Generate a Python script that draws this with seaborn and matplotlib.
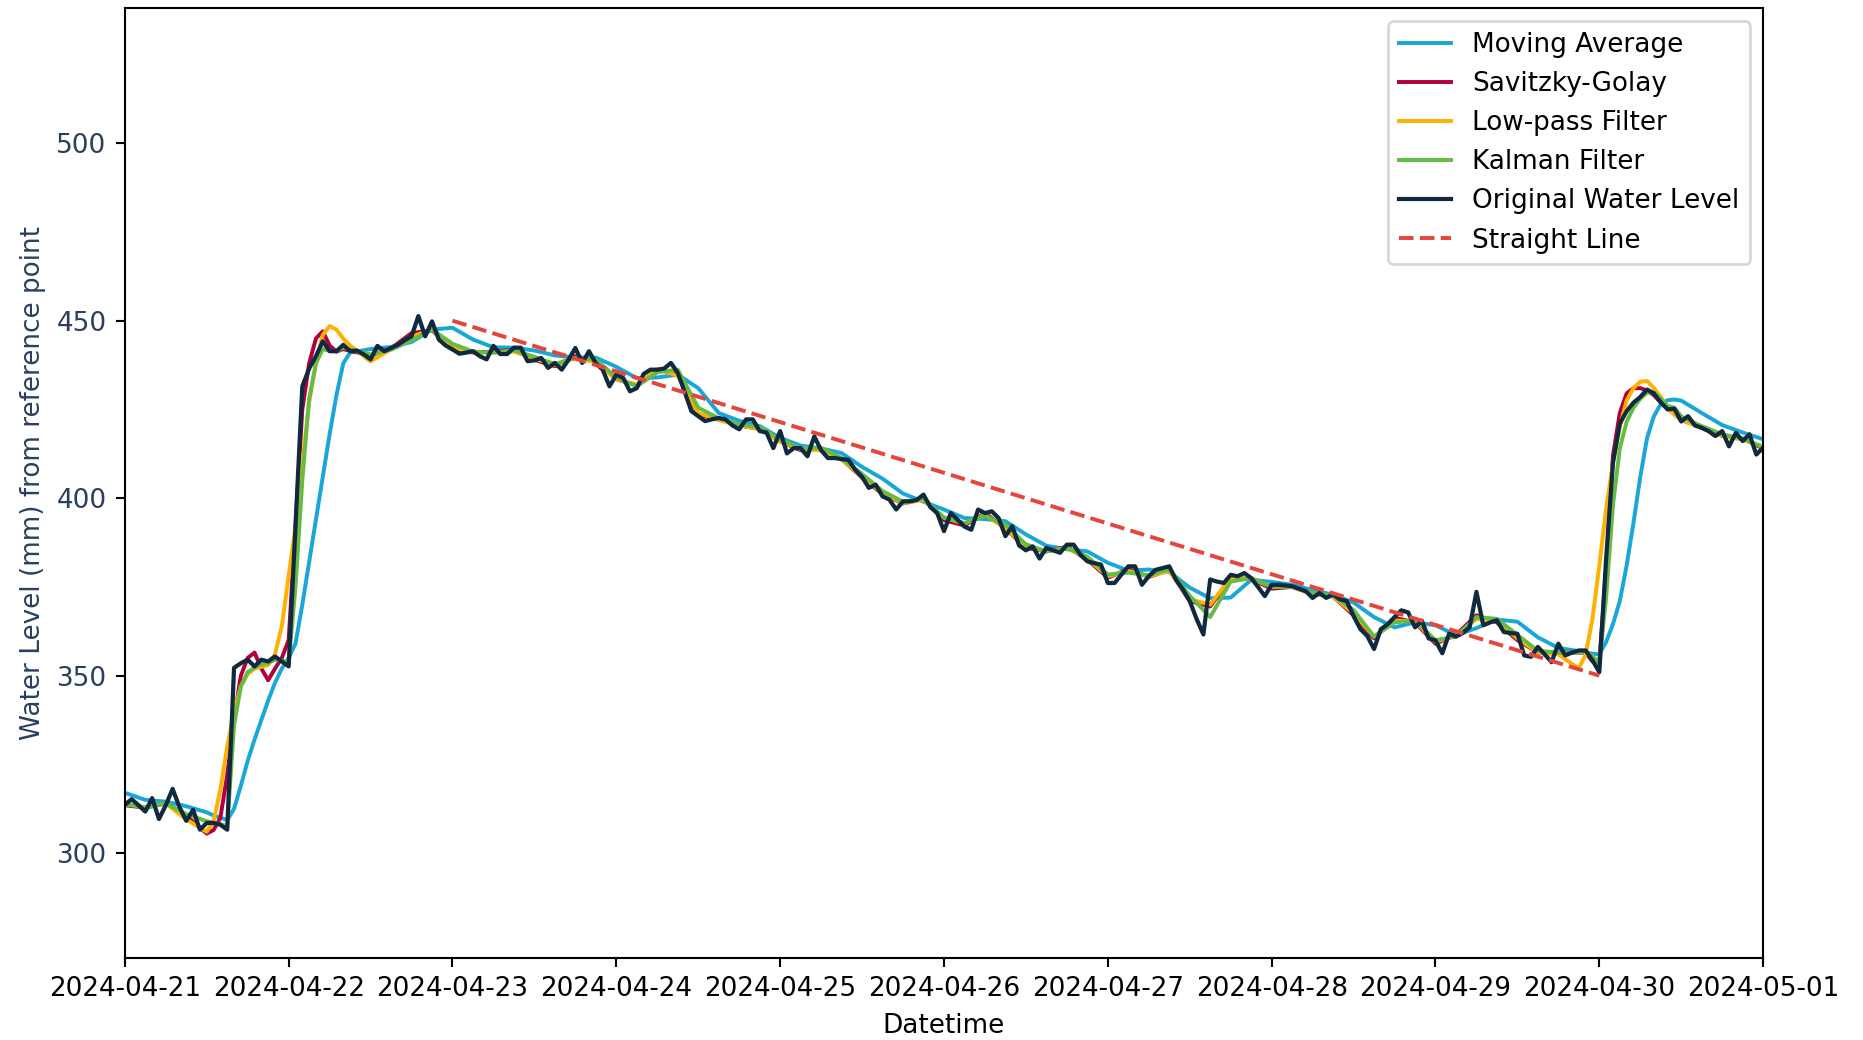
import numpy as np
import pandas as pd
import seaborn as sns
import matplotlib.pyplot as plt
import matplotlib.dates as mdates

# hourly water level readings, 2024-04-21 00:00 .. 2024-05-01 00:00
water_level = [
    313.6, 315.2, 313.5, 311.7, 315.5, 309.6, 313.5, 318.1, 313.0, 309.1, 312.2, 306.6,
    308.5, 308.5, 308.0, 306.6, 352.2, 353.5, 354.5, 352.6, 354.5, 354.0, 355.4, 354.0,
    352.6, 392.0, 431.5, 436.5, 440.0, 444.2, 441.4, 441.4, 443.2, 441.4, 441.6, 440.5,
    439.1, 442.9, 441.4, 442.3, 443.2, 444.5, 445.6, 451.3, 445.6, 449.8, 444.7, 443.0,
    441.9, 440.7, 441.0, 441.4, 440.0, 439.1, 442.9, 440.6, 440.6, 442.4, 442.4, 438.6,
    438.8, 439.5, 436.7, 438.1, 436.2, 439.0, 442.3, 438.1, 441.4, 438.0, 436.2, 431.5,
    434.8, 433.9, 430.1, 431.0, 435.0, 436.2, 436.2, 436.5, 438.1, 435.3, 430.0, 424.5,
    423.1, 421.7, 422.2, 422.6, 422.2, 420.5, 419.4, 422.2, 422.2, 418.9, 418.5, 414.1,
    418.9, 412.6, 414.1, 414.1, 411.8, 417.4, 413.5, 411.3, 411.3, 411.0, 410.8, 408.0,
    406.0, 402.9, 403.8, 400.5, 399.6, 396.8, 399.1, 399.1, 399.5, 401.0, 397.5, 395.8,
    390.7, 395.8, 393.9, 392.0, 391.1, 396.8, 395.8, 396.3, 394.4, 389.3, 392.1, 386.7,
    385.3, 386.4, 383.0, 386.0, 385.3, 384.6, 386.9, 386.9, 384.0, 382.2, 381.7, 381.3,
    376.1, 376.1, 378.5, 380.8, 380.8, 375.6, 378.0, 379.8, 380.3, 380.8, 377.0, 374.3,
    371.0, 366.0, 361.6, 377.1, 376.5, 376.1, 378.4, 378.0, 378.9, 377.5, 375.0, 372.4,
    375.6, 375.6, 375.4, 375.2, 374.5, 373.8, 371.9, 373.3, 371.9, 372.9, 371.5, 371.0,
    366.8, 363.1, 361.2, 357.5, 363.1, 364.5, 366.5, 368.4, 367.8, 363.6, 365.5, 360.5,
    359.9, 356.3, 361.8, 361.0, 362.0, 363.6, 373.6, 364.2, 365.0, 365.6, 362.3, 362.0,
    361.8, 355.7, 355.3, 358.1, 356.0, 353.8, 359.0, 355.7, 356.5, 357.1, 357.1, 354.3,
    351.0, 383.0, 410.0, 421.0, 424.5, 426.9, 428.5, 430.6, 429.5, 427.0, 425.0, 425.2,
    421.6, 423.1, 420.5, 419.8, 418.9, 417.5, 418.9, 414.6, 418.4, 416.1, 418.0, 412.3,
    414.2,
]

# hours (from 2024-04-21 00:00) at which the smoothed curves were read
filter_hours = ([0, 3, 6, 9] + list(range(12, 34)) + list(range(36, 214, 3))
                + list(range(214, 229)) + [231, 234, 237, 240])

moving_avg = [
    317.0, 315.0, 314.5, 313.2,
    311.5, 310.6, 310.0, 309.3, 312.5, 319.0, 326.0, 332.0, 337.5, 343.0, 348.0, 352.0,
    355.0, 359.0, 370.0, 382.0, 394.0, 406.0, 418.0, 429.0, 438.0, 441.0,
    442.0, 442.6, 444.0, 447.5, 448.0, 444.7, 442.5, 442.4, 441.6, 440.2,
    439.6, 439.6, 437.0, 433.8, 434.0, 434.8, 431.0, 424.0, 421.8, 420.3,
    417.0, 414.8, 414.0, 412.7, 408.8, 405.5, 401.3, 399.0, 396.8, 394.4,
    394.1, 393.5, 389.8, 386.6, 385.6, 385.0, 381.8, 379.6, 379.9, 379.2,
    374.8, 371.8, 372.0, 377.0, 376.4, 375.6, 374.1, 372.8, 370.6, 366.5,
    363.6, 365.0, 364.2, 361.4, 363.4, 365.8, 365.2, 360.8, 357.8, 356.9,
    356.5, 356.2, 356.0, 359.5, 364.5, 371.0, 381.0, 393.0, 406.0, 417.0, 423.1, 426.5,
    427.6, 427.8, 427.5,
    424.0, 420.6, 418.5, 416.6,
]

savgol = [
    313.5, 312.8, 314.0, 310.5,
    305.5, 306.5, 310.0, 322.0, 338.0, 350.0, 355.0, 356.5, 352.0, 348.7, 352.0, 355.0,
    360.0, 392.0, 425.0, 438.0, 445.0, 447.0, 443.0, 441.3, 442.0, 441.5,
    440.2, 442.2, 446.5, 447.3, 442.0, 441.0, 441.3, 441.8, 439.0, 437.2,
    440.0, 438.5, 433.5, 431.8, 436.2, 435.0, 423.5, 422.3, 420.5, 419.5,
    416.0, 413.5, 414.0, 411.0, 405.8, 401.2, 398.5, 399.8, 393.8, 392.3,
    395.8, 391.5, 386.0, 385.0, 386.3, 382.7, 377.6, 380.0, 377.8, 379.8,
    371.0, 369.5, 377.6, 377.2, 374.5, 375.0, 373.0, 372.3, 367.0, 360.5,
    366.3, 365.0, 359.0, 361.5, 367.0, 365.0, 360.0, 356.5, 356.5, 356.5,
    356.5, 354.0, 354.0, 380.0, 412.0, 424.0, 429.5, 431.0, 431.0, 430.3, 429.0, 427.0,
    425.3, 424.0, 422.0,
    420.0, 417.5, 416.8, 414.0,
]

lowpass = [
    313.8, 313.0, 314.0, 309.5,
    306.0, 309.0, 318.0, 330.0, 340.0, 347.0, 350.5, 352.0, 352.5, 353.0, 356.0, 364.0,
    378.0, 392.0, 410.0, 427.0, 438.0, 446.0, 448.5, 447.5, 445.0, 443.0,
    438.5, 442.0, 445.5, 447.5, 442.5, 441.0, 441.0, 441.3, 439.3, 437.5,
    439.5, 438.3, 433.5, 432.0, 436.3, 434.5, 424.0, 422.0, 420.5, 419.5,
    416.0, 413.8, 413.5, 411.0, 406.0, 401.5, 398.6, 399.5, 394.5, 392.8,
    395.3, 391.5, 386.5, 385.0, 386.0, 383.0, 378.0, 379.5, 378.0, 379.5,
    371.5, 370.0, 377.5, 377.3, 375.0, 375.0, 373.0, 372.3, 367.5, 361.0,
    365.5, 365.3, 359.5, 361.3, 366.0, 365.5, 360.5, 356.5, 356.0, 352.0,
    356.0, 366.0, 381.0, 397.0, 410.0, 420.0, 427.5, 431.0, 432.8, 433.0, 431.0, 428.5,
    425.5, 423.5, 422.0,
    419.8, 417.5, 416.5, 414.5,
]

kalman = [
    313.8, 312.8, 314.0, 311.0,
    309.0, 308.5, 308.2, 307.5, 336.0, 347.0, 351.0, 352.3, 353.2, 353.6, 354.5, 354.3,
    353.5, 375.0, 405.0, 428.0, 438.0, 442.0, 441.5, 441.4, 442.4, 441.8,
    440.5, 441.8, 444.5, 447.5, 443.5, 441.3, 441.0, 441.7, 439.8, 437.8,
    439.5, 439.0, 434.0, 431.5, 435.5, 436.2, 425.5, 422.5, 420.8, 420.0,
    416.5, 414.0, 414.2, 411.3, 406.8, 402.0, 399.0, 399.8, 394.5, 393.0,
    395.0, 392.5, 387.0, 385.0, 386.0, 383.5, 378.5, 379.0, 378.3, 380.0,
    372.5, 366.5, 376.5, 377.5, 375.0, 375.0, 373.3, 372.5, 368.5, 361.0,
    365.0, 365.5, 360.0, 361.0, 366.5, 366.0, 361.5, 357.0, 356.5, 356.5,
    356.8, 355.5, 353.5, 372.0, 398.0, 414.0, 421.5, 425.5, 428.0, 429.7, 429.8, 428.0,
    426.0, 425.5, 423.0,
    420.3, 418.0, 416.8, 414.3,
]

line_dates = ["2024-04-23", "2024-04-30"]
line_values = [450, 350]

start = pd.Timestamp("2024-04-21")
orig_time = pd.date_range(start, periods=len(water_level), freq="h")
filt_time = start + pd.to_timedelta(filter_hours, unit="h")

DPI = 189
fig, ax = plt.subplots(figsize=(1863 / DPI, 1040 / DPI), dpi=DPI)
fig.subplots_adjust(left=0.067, right=0.9464, top=0.992, bottom=0.079)

sns.lineplot(x=filt_time, y=moving_avg, ax=ax, color="#19a7d8", lw=1.5, label="Moving Average")
sns.lineplot(x=filt_time, y=savgol, ax=ax, color="#b3003c", lw=1.5, label="Savitzky-Golay")
sns.lineplot(x=filt_time, y=lowpass, ax=ax, color="#ffb000", lw=1.5, label="Low-pass Filter")
sns.lineplot(x=filt_time, y=kalman, ax=ax, color="#66bb45", lw=1.5, label="Kalman Filter")
sns.lineplot(x=orig_time, y=water_level, ax=ax, color="#0f2a40", lw=1.6, label="Original Water Level")
sns.lineplot(x=pd.to_datetime(line_dates), y=line_values, ax=ax, color="#e5463a",
             lw=1.5, linestyle="--", label="Straight Line")

ax.set_xlim(start, pd.Timestamp("2024-05-01"))
ax.set_ylim(270.5, 538)
ax.xaxis.set_major_locator(mdates.DayLocator())
ax.xaxis.set_major_formatter(mdates.DateFormatter("%Y-%m-%d"))
ax.set_yticks([300, 350, 400, 450, 500])
ax.tick_params(axis="y", labelcolor="#2a3f5f")

ax.set_xlabel("Datetime")
ax.set_ylabel("Water Level (mm) from reference point", color="#2a3f5f")
ax.legend(loc="upper right")

plt.savefig("out.png", dpi=DPI)
